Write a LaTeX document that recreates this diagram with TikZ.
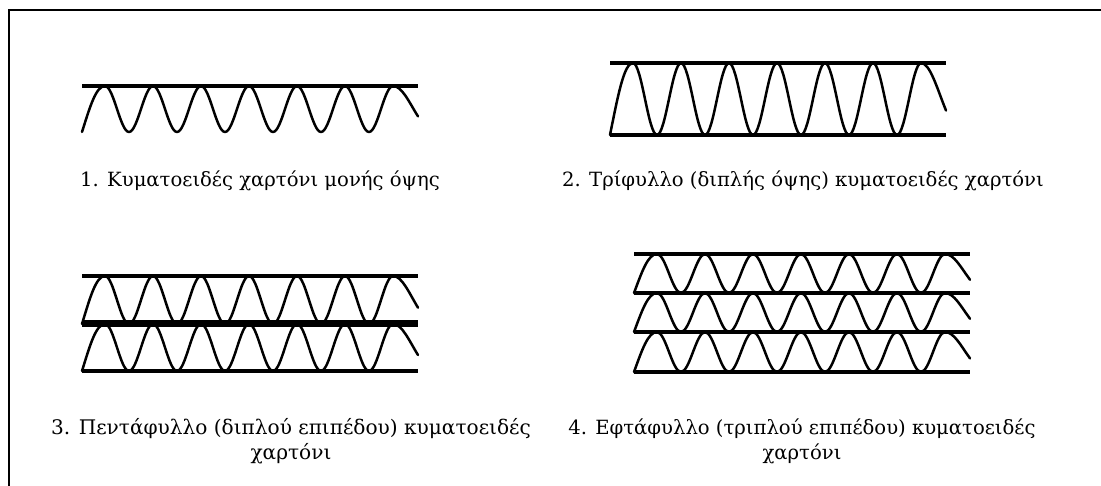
\documentclass[tikz,border=0pt]{standalone}
\usepackage{fontspec}
\setmainfont{DejaVu Serif}
\newcommand{\corrwave}[3]{% x0, top y, bottom y
  \draw[wave] (#1,#3) .. controls ({#1+8},{#2+(#3-#2)*0.45}) and ({#1+14},#2) .. ({#1+23},#2)
  \foreach \k in {0,...,5} {
    .. controls ({#1+23+48*\k+8.7},#2) and ({#1+23+48*\k+15.3},#3) .. ({#1+23+48*\k+24},#3)
    .. controls ({#1+23+48*\k+32.7},#3) and ({#1+23+48*\k+39.3},#2) .. ({#1+23+48*\k+48},#2)
  }
  .. controls ({#1+320},#2) and ({#1+327},{#2+(#3-#2)*0.35}) .. ({#1+336},{#2+(#3-#2)*0.66});
}
\begin{document}
\begin{tikzpicture}[x=1pt,y=-1pt,
  plate/.style={line width=4.6pt,line cap=butt},
  thickplate/.style={line width=7pt,line cap=butt},
  wave/.style={line width=2.5pt,line cap=round,line join=round},
  frame/.style={line width=2.4pt},
  lbl/.style={font=\fontsize{19.6}{25.5}\selectfont,align=center,inner sep=0pt,anchor=base},
  lblwide/.style={lbl,font=\fontsize{20.1}{25.5}\selectfont}]
\useasboundingbox (0,0) rectangle (1101,486);
\draw[frame] (1101,10) -- (9,10) -- (9,486);
% panel 1
\corrwave{82}{86}{132}
\draw[plate] (82,86) -- (418,86);
\node[lbl] (t1) at (260,187) {1. Κυματοειδές χαρτόνι μονής όψης};
% panel 2
\corrwave{610}{63}{135}
\draw[plate] (610,63) -- (946,63);
\draw[plate] (610,135) -- (946,135);
\node[lbl] (t2) at (803,187) {2. Τρίφυλλο (διπλής όψης) κυματοειδές χαρτόνι};
% panel 3
\corrwave{82}{276}{324}
\corrwave{82}{324}{371}
\draw[plate] (82,276) -- (418,276);
\draw[thickplate] (82,324) -- (418,324);
\draw[plate] (82,371) -- (418,371);
\node[lblwide] (t3) at (291,459.5) {3. Πεντάφυλλο (διπλού επιπέδου) κυματοειδές\\χαρτόνι};
% panel 4
\corrwave{634}{254}{293}
\corrwave{634}{293}{332}
\corrwave{634}{332}{372}
\draw[plate] (634,254) -- (970,254);
\draw[plate] (634,293) -- (970,293);
\draw[plate] (634,332) -- (970,332);
\draw[plate] (634,372) -- (970,372);
\node[lbl] (t4) at (802,459.5) {4. Εφτάφυλλο (τριπλού επιπέδου) κυματοειδές\\χαρτόνι};
\end{tikzpicture}
\end{document}
